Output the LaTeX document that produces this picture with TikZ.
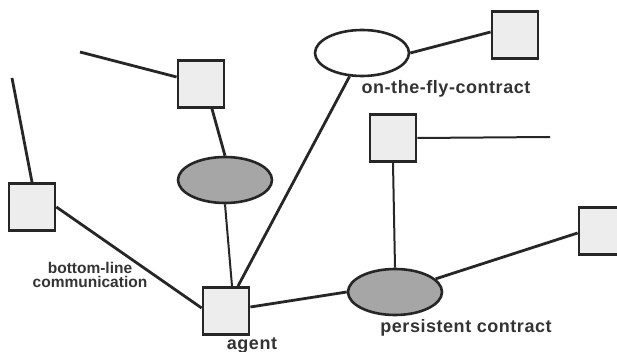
\documentclass[tikz,border=0pt]{standalone}
\usepackage{fontspec}
\setmainfont{Liberation Sans}
\newfontfamily\widelabel[LetterSpace=3]{Liberation Sans}
\usetikzlibrary{shapes.geometric}
\definecolor{ink}{HTML}{262626}
\definecolor{boxfill}{HTML}{EDEDED}
\definecolor{ovalfill}{HTML}{A6A6A6}
\definecolor{labelink}{HTML}{333333}
\begin{document}
\begin{tikzpicture}[x=1pt,y=-1pt,
  agentbox/.style={draw=ink, line width=2.8pt, fill=boxfill, minimum width=46pt, minimum height=47pt, inner sep=0pt},
  contract/.style={ellipse, draw=ink, line width=2.6pt, minimum width=94pt, minimum height=46pt, inner sep=0pt},
  persistent/.style={contract, fill=ovalfill},
  fly/.style={contract, fill=white},
  link/.style={draw=ink, line width=2.8pt},
  thinlink/.style={draw=ink, line width=2pt},
  lbl/.style={text=labelink, inner sep=0pt, align=center, anchor=base},
  smalllbl/.style={lbl, font=\bfseries\fontsize{15.5}{14.5}\selectfont},
  widelbl/.style={lbl, font=\widelabel\bfseries\fontsize{18}{16}\selectfont}
]
\useasboundingbox (0,0) rectangle (617,352);
\clip (0,0) rectangle (617,352);

% free ends of the links that run off the picture
\coordinate (e1) at (80,52);
\coordinate (e2) at (12,78);
\coordinate (e3) at (550,137);

% contracts
\node[persistent] (c1) at (225,180) {};
\node[fly] (c2) at (362,53) {};
\node[persistent] (c3) at (395,292) {};

% agents
\node[agentbox] (a1) at (201,84) {};
\node[agentbox] (a2) at (32,207) {};
\node[agentbox] (ag) at (226,311) {};
\node[agentbox] (a4) at (515,35) {};
\node[agentbox] (a5) at (393,138) {};
\node[agentbox] (a6) at (602,231) {};

% links
\path[link] (e1) -- ([yshift=7pt]a1.west);
\path[link] ([xshift=11pt]a1.south) -- (c1.north);
\path[thinlink] (c1.south) -- ([xshift=6pt]ag.north);
\path[link] ([xshift=12pt]ag.north) -- (c2);
\path[link] (c2.east) -- ([yshift=3pt]a4.west);
\path[link] (e2) -- (a2.north);
\path[link] (a2.east) -- ([yshift=3pt]ag.west);
\path[link] ([yshift=4pt]ag.east) -- (c3.west);
\path[link] (c3) -- ([yshift=-2pt]a6.west);
\path[thinlink] (a5.south) -- (c3.north);
\path[thinlink] (a5.east) -- (e3);

% labels
\node[widelbl] (lfly) at (446,94) {on-the-fly-contract};
\node[smalllbl, anchor=north] (lbottom) at (90,262) {bottom-line\\communication};
\node[widelbl] (lagent) at (252,349) {agent};
\node[widelbl] (lpers) at (466,332) {persistent contract};
\end{tikzpicture}
\end{document}
